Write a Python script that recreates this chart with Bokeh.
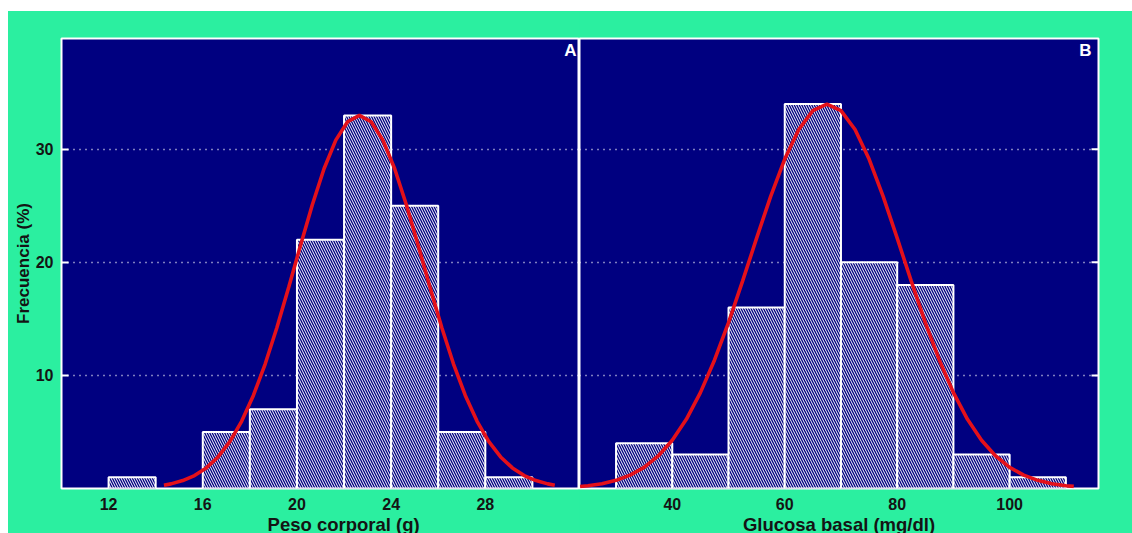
from bokeh.plotting import figure
from bokeh.models import FixedTicker, Label, Spacer
from bokeh.layouts import row, column
from bokeh.embed import file_html
from bokeh.resources import INLINE

# ---------------- data ----------------
# Panel A: body weight (g)
A_LEFT = [12, 16, 18, 20, 22, 24, 26, 28]
A_RIGHT = [14, 18, 20, 22, 24, 26, 28, 30]
A_FREQ = [1, 5, 7, 22, 33, 25, 5, 1]
A_CURVE_X = [14.35, 14.65, 15.15, 15.65, 16.15, 16.65, 17.15, 17.65, 18.15, 18.65,
             19.15, 19.65, 20.15, 20.65, 21.15, 21.65, 22.15, 22.65, 23.15, 23.65,
             24.15, 24.65, 25.15, 25.65, 26.15, 26.65, 27.15, 27.65, 28.15, 28.65,
             29.15, 29.65, 30.15, 30.65, 30.95]
A_CURVE_Y = [0.29, 0.41, 0.70, 1.14, 1.82, 2.79, 4.14, 5.94, 8.23, 11.01,
             14.24, 17.80, 21.49, 25.08, 28.28, 30.81, 32.44, 33.0, 32.44, 30.81,
             28.28, 25.08, 21.49, 17.80, 14.24, 11.01, 8.23, 5.94, 4.14, 2.79,
             1.82, 1.14, 0.70, 0.41, 0.29]
A_XTICKS = [12, 16, 20, 24, 28]
A_XLABEL = "Peso corporal (g)"

# Panel B: basal glucose (mg/dl)
B_LEFT = [30, 40, 50, 60, 70, 80, 90, 100]
B_RIGHT = [40, 50, 60, 70, 80, 90, 100, 110]
B_FREQ = [4, 3, 16, 34, 20, 18, 3, 1]
B_CURVE_X = [23.6, 25, 27.5, 30, 32.5, 35, 37.5, 40, 42.5, 45, 47.5, 50, 52.5, 55,
             57.5, 60, 62.5, 65, 67.5, 70, 72.5, 75, 77.5, 80, 82.5, 85, 87.5, 90,
             92.5, 95, 97.5, 100, 102.5, 105, 107.5, 110, 111.4]
B_CURVE_Y = [0.17, 0.24, 0.42, 0.72, 1.18, 1.87, 2.88, 4.27, 6.12, 8.48, 11.35,
             14.67, 18.34, 22.14, 25.84, 29.14, 31.75, 33.42, 34.0, 33.42, 31.75,
             29.14, 25.84, 22.14, 18.34, 14.67, 11.35, 8.48, 6.12, 4.27, 2.88, 1.87,
             1.18, 0.72, 0.42, 0.24, 0.19]
B_XTICKS = [40, 60, 80, 100]
B_XLABEL = "Glucosa basal (mg/dl)"

Y_TICKS = [10, 20, 30]
Y_LABEL = "Frecuencia (%)"

# ---------------- style ----------------
GREEN = "#2BEFA0"
NAVY = "#000080"
RED = "#E4101A"
TXT = "#141414"
SANS = "Liberation Sans"
NBSP = "\u00a0"
Y_MAX = 39.8


def make_panel(x_range, frame_w, left_border, right_border, y_loc):
    p = figure(frame_width=frame_w, frame_height=450, x_range=x_range, y_range=(0, Y_MAX),
               output_backend="svg", toolbar_location=None, y_axis_location=y_loc,
               min_border_left=left_border, min_border_right=right_border,
               min_border_top=27, min_border_bottom=50,
               background_fill_color=NAVY, border_fill_color=GREEN,
               outline_line_color="white", outline_line_width=2)
    p.xgrid.visible = False
    p.ygrid.ticker = FixedTicker(ticks=Y_TICKS)
    p.ygrid.grid_line_color = "white"
    p.ygrid.grid_line_dash = "1 5"
    p.ygrid.grid_line_width = 1.5
    p.xaxis.axis_line_color = None
    p.xaxis.major_tick_line_color = None
    p.xaxis.minor_tick_line_color = None
    p.xaxis.major_label_standoff = 3
    p.xaxis.major_label_text_font = SANS
    p.xaxis.major_label_text_font_style = "bold"
    p.xaxis.major_label_text_font_size = "16px"
    p.xaxis.major_label_text_color = TXT
    p.xaxis.axis_label_text_font = SANS
    p.xaxis.axis_label_text_font_style = "bold"
    p.xaxis.axis_label_text_font_size = "18.5px"
    p.xaxis.axis_label_text_color = TXT
    p.xaxis.axis_label_standoff = 1
    p.yaxis.ticker = FixedTicker(ticks=Y_TICKS)
    p.yaxis.axis_line_color = None
    p.yaxis.major_tick_in = 7
    p.yaxis.major_tick_out = 0
    p.yaxis.major_tick_line_color = "white"
    p.yaxis.major_tick_line_width = 2
    p.yaxis.minor_tick_line_color = None
    return p


def add_bars(p, left, right, freq, cx, cy):
    p.quad(left=left, right=right, bottom=0, top=freq, fill_color=NAVY,
           line_color="white", line_width=2, hatch_pattern="\\", hatch_color="white",
           hatch_scale=5, hatch_weight=1)
    p.line(cx, cy, line_color=RED, line_width=3.6)


# Panel A
pA = make_panel((10, 32), 518, 53, 0, "left")
add_bars(pA, A_LEFT, A_RIGHT, A_FREQ, A_CURVE_X, A_CURVE_Y)
pA.xaxis.ticker = FixedTicker(ticks=A_XTICKS)
pA.xaxis.axis_label = NBSP * 9 + A_XLABEL
pA.yaxis.major_label_standoff = 8
pA.yaxis.major_label_text_font = SANS
pA.yaxis.major_label_text_font_style = "bold"
pA.yaxis.major_label_text_font_size = "16px"
pA.yaxis.major_label_text_color = TXT
pA.yaxis.axis_label = Y_LABEL
pA.yaxis.axis_label_text_font = SANS
pA.yaxis.axis_label_text_font_style = "bold"
pA.yaxis.axis_label_text_font_size = "17px"
pA.yaxis.axis_label_text_color = TXT
pA.yaxis.axis_label_standoff = 0
pA.add_layout(Label(x=31.87, y=39.6, text="A", text_align="right", text_baseline="top",
                    text_font=SANS, text_font_style="bold", text_font_size="17px",
                    text_color="white"))

# Panel B (no tick labels on its y axis; inward white ticks at the right edge)
B_XRANGE = (23.5, 115.8)
pB = make_panel(B_XRANGE, 519, 0, 34, "right")
pB.yaxis.visible = False
add_bars(pB, B_LEFT, B_RIGHT, B_FREQ, B_CURVE_X, B_CURVE_Y)
pB.scatter(x=[B_XRANGE[1]] * len(Y_TICKS), y=Y_TICKS, marker="dash", size=14,
           line_color="white", line_width=2)
pB.xaxis.ticker = FixedTicker(ticks=B_XTICKS)
pB.xaxis.axis_label = B_XLABEL
pB.add_layout(Label(x=114.55, y=39.6, text="B", text_align="right", text_baseline="top",
                    text_font=SANS, text_font_style="bold", text_font_size="17px",
                    text_color="white"))

panels = row(pA, pB, styles={"background-color": GREEN})
layout = column(Spacer(width=1132, height=11),
                row(Spacer(width=8, height=10), panels))

open("out.html", "w").write(file_html(layout, INLINE))
